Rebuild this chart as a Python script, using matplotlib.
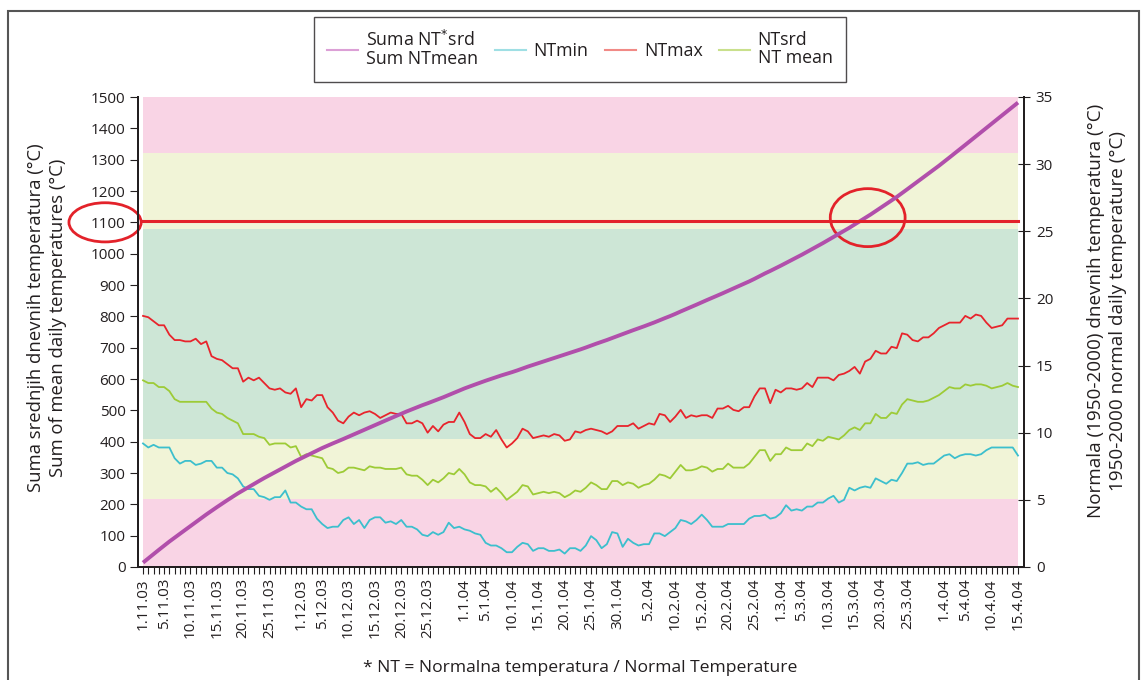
import datetime as dt
import numpy as np
import matplotlib.pyplot as plt
from matplotlib.lines import Line2D
from matplotlib.patches import Ellipse, Rectangle

plt.rcParams['font.family'] = ['Open Sans', 'DejaVu Sans']

# days 1.11.2003 - 15.4.2004
start = dt.date(2003, 11, 1)
n_days = 167
dates = [start + dt.timedelta(days=i) for i in range(n_days)]
day_names = [f"{d.day}.{d.month}.{d:%y}" for d in dates]

tick_labels = ['1.11.03', '5.11.03', '10.11.03', '15.11.03', '20.11.03', '25.11.03',
               '1.12.03', '5.12.03', '10.12.03', '15.12.03', '20.12.03', '25.12.03',
               '1.1.04', '5.1.04', '10.1.04', '15.1.04', '20.1.04', '25.1.04', '30.1.04',
               '5.2.04', '10.2.04', '15.2.04', '20.2.04', '25.2.04',
               '1.3.04', '5.3.04', '10.3.04', '15.3.04', '20.3.04', '25.3.04',
               '1.4.04', '5.4.04', '10.4.04', '15.4.04']

nt_max = [18.7, 18.6, 18.3, 18.0, 18.0, 17.3, 16.9, 16.9, 16.8, 16.8,
          17.0, 16.6, 16.8, 15.7, 15.5, 15.4, 15.1, 14.8, 14.8, 13.8,
          14.1, 13.9, 14.1, 13.7, 13.3, 13.2, 13.3, 13.0, 12.9, 13.3,
          11.9, 12.5, 12.4, 12.8, 12.8, 11.9, 11.5, 10.9, 10.7, 11.2,
          11.5, 11.3, 11.5, 11.6, 11.4, 11.1, 11.3, 11.5, 11.4, 11.4,
          10.7, 10.7, 10.9, 10.7, 10.0, 10.5, 10.1, 10.6, 10.8, 10.8,
          11.5, 10.8, 9.9, 9.6, 9.6, 9.9, 9.7, 10.2, 9.5, 8.9,
          9.2, 9.6, 10.3, 10.1, 9.6, 9.7, 9.8, 9.7, 9.9,
          9.8, 9.4, 9.5, 10.1, 10.0, 10.2, 10.3, 10.2, 10.1, 9.9,
          10.1, 10.5, 10.5, 10.5, 10.7, 10.3, 10.5, 10.7, 10.6, 11.4,
          11.3, 10.8, 11.2, 11.7, 11.1, 11.3, 11.2, 11.3, 11.3, 11.1,
          11.8, 11.8, 12.0, 11.7, 11.6, 11.9, 11.9, 12.7, 13.3, 13.3,
          12.2, 13.2, 13.0, 13.3, 13.3, 13.2, 13.3, 13.7, 13.4, 14.1,
          14.1, 14.1, 13.9, 14.3, 14.4, 14.6, 14.9, 14.4, 15.3, 15.5,
          16.1, 15.9, 15.9, 16.4, 16.3, 17.4, 17.3, 16.9, 16.8, 17.1,
          17.1, 17.4, 17.8, 18.0, 18.2, 18.2, 18.2, 18.7, 18.5, 18.8,
          18.7, 18.2, 17.8, 17.9, 18.0, 18.5, 18.5, 18.5]

nt_mean = [13.9, 13.7, 13.7, 13.4, 13.4, 13.1, 12.5, 12.3, 12.3, 12.3,
           12.3, 12.3, 12.3, 11.8, 11.5, 11.4, 11.1, 10.9, 10.7, 9.9,
           9.9, 9.9, 9.7, 9.6, 9.1, 9.2, 9.2, 9.2, 8.9, 9.0,
           8.2, 8.4, 8.3, 8.2, 8.1, 7.4, 7.3, 7.0, 7.1, 7.4,
           7.4, 7.3, 7.2, 7.5, 7.4, 7.4, 7.3, 7.3, 7.3, 7.4,
           6.9, 6.8, 6.8, 6.5, 6.1, 6.5, 6.3, 6.6, 7.0, 6.9,
           7.3, 6.9, 6.3, 6.1, 6.1, 6.0, 5.6, 5.9, 5.5, 5.0,
           5.3, 5.6, 6.1, 6.0, 5.4, 5.5, 5.6, 5.5, 5.6,
           5.5, 5.2, 5.4, 5.7, 5.6, 5.9, 6.3, 6.1, 5.8, 5.8,
           6.4, 6.4, 6.1, 6.3, 6.2, 5.9, 6.1, 6.2, 6.5, 6.9,
           6.8, 6.6, 7.1, 7.6, 7.2, 7.2, 7.3, 7.5, 7.4, 7.1,
           7.3, 7.3, 7.7, 7.4, 7.4, 7.4, 7.7, 8.2, 8.7, 8.7,
           7.9, 8.4, 8.4, 8.9, 8.7, 8.7, 8.7, 9.2, 9.0, 9.5,
           9.4, 9.7, 9.6, 9.5, 9.8, 10.2, 10.4, 10.2, 10.7, 10.7,
           11.4, 11.1, 11.1, 11.5, 11.4, 12.1, 12.5, 12.4, 12.3, 12.3,
           12.4, 12.6, 12.8, 13.1, 13.4, 13.3, 13.3, 13.6, 13.5, 13.6,
           13.6, 13.5, 13.3, 13.4, 13.5, 13.7, 13.5, 13.4]

nt_min = [9.2, 8.9, 9.1, 8.9, 8.9, 8.9, 8.1, 7.7, 7.9, 7.9,
          7.6, 7.7, 7.9, 7.9, 7.4, 7.4, 7.0, 6.9, 6.6, 6.0,
          5.8, 5.8, 5.3, 5.2, 5.0, 5.2, 5.2, 5.7, 4.8, 4.8,
          4.5, 4.3, 4.3, 3.6, 3.2, 2.9, 3.0, 3.0, 3.5, 3.7,
          3.2, 3.5, 2.9, 3.5, 3.7, 3.7, 3.3, 3.4, 3.2, 3.5,
          3.0, 3.0, 2.8, 2.4, 2.3, 2.6, 2.4, 2.6, 3.3, 2.9,
          3.0, 2.8, 2.7, 2.5, 2.4, 1.8, 1.6, 1.6, 1.4, 1.1,
          1.1, 1.5, 1.8, 1.7, 1.2, 1.4, 1.4, 1.2, 1.2,
          1.3, 1.0, 1.4, 1.4, 1.2, 1.6, 2.3, 2.0, 1.4, 1.7,
          2.6, 2.5, 1.5, 2.1, 1.8, 1.6, 1.7, 1.7, 2.5, 2.5,
          2.3, 2.6, 2.9, 3.5, 3.4, 3.2, 3.5, 3.9, 3.5, 3.0,
          3.0, 3.0, 3.2, 3.2, 3.2, 3.2, 3.6, 3.8, 3.8, 3.9,
          3.6, 3.7, 4.0, 4.6, 4.2, 4.3, 4.2, 4.5, 4.5, 4.8,
          4.8, 5.1, 5.3, 4.8, 5.0, 5.9, 5.7, 5.9, 6.0, 5.9,
          6.6, 6.4, 6.2, 6.5, 6.4, 7.0, 7.7, 7.7, 7.8, 7.6,
          7.7, 7.7, 8.0, 8.3, 8.4, 8.1, 8.3, 8.4, 8.4, 8.3,
          8.4, 8.7, 8.9, 8.9, 8.9, 8.9, 8.9, 8.3]

threshold = 1100
band_edges = [0, 5.1, 9.55, 25.2, 30.85, 35]
band_colors = ['#f9d4e5', '#f1f4d7', '#cde6d6', '#f1f4d7', '#f9d4e5']

sum_mean = np.cumsum(nt_mean)
x = np.arange(n_days)

fig = plt.figure(figsize=(11.41, 6.8), dpi=100)
W, H = 1141, 680
ax = fig.add_axes([138 / W, 1 - 567 / H, 886 / W, 470 / H])
ax2 = ax.twinx()
ax.set_zorder(ax2.get_zorder() + 1)
ax.patch.set_visible(False)

for lo, hi, c in zip(band_edges[:-1], band_edges[1:], band_colors):
    ax2.fill_between([x[0], x[-1]], lo, hi, color=c, lw=0)
ax2.plot(x, nt_min, color='#3cbfcd', lw=1.3)
ax2.plot(x, nt_max, color='#e8242c', lw=1.3)
ax2.plot(x, nt_mean, color='#9dcb37', lw=1.3)

ax.plot(x, sum_mean, color='#b14fab', lw=2.8, solid_capstyle='butt')
ax.plot([x[0], x[-1]], [threshold + 5, threshold + 5], color='#e3222a', lw=2.2)

# circles marking the 1100 crossing
cross_day = np.interp(threshold, sum_mean, x)
ax.add_patch(Ellipse((-7.2, threshold), 13.7, 125, fill=False,
                     ec='#e3222a', lw=2, clip_on=False))
ax.add_patch(Ellipse((cross_day + 1.8, threshold + 15), 14.2, 185, fill=False,
                     ec='#e3222a', lw=2, clip_on=False))

ax.set_xlim(-0.95, n_days - 1 + 1.14)
ax.set_ylim(0, 1500)
ax2.set_ylim(0, 35)

ax.set_yticks(np.arange(0, 1501, 100))
ax2.set_yticks(np.arange(0, 36, 5))
tick_pos = [day_names.index(t) for t in tick_labels]
ax.set_xticks(tick_pos)
ax.set_xticklabels(tick_labels, rotation=90)
ax.set_xticks(x, minor=True)

txt = '#231f20'
ax.tick_params(axis='x', which='both', length=5, width=0.8, direction='out',
               labelsize=11, colors=txt, pad=3)
ax.tick_params(axis='y', length=6, width=0.8, direction='out',
               labelsize=11, colors=txt, pad=3)
ax2.tick_params(axis='y', length=9, width=0.8, direction='inout',
                labelsize=11, colors=txt, pad=4)

for a in (ax, ax2):
    a.spines['top'].set_visible(False)
    for s in ('left', 'right', 'bottom'):
        a.spines[s].set_color('#231f20')
        a.spines[s].set_linewidth(1.4)

fig.text(47 / W, 1 - 318 / H,
         'Suma srednjih dnevnih temperatura (°C)\nSum of mean daily temperatures (°C)',
         rotation=90, ha='center', va='center', multialignment='center',
         fontsize=13.3, linespacing=1.3, color=txt)
fig.text(1107 / W, 1 - 311 / H,
         'Normala (1950-2000) dnevnih temperatura (°C)\n1950-2000 normal daily temperature (°C)',
         rotation=90, ha='center', va='center', multialignment='center',
         fontsize=13.6, linespacing=1.3, color=txt)
fig.text(580 / W, 1 - 668 / H, '* NT = Normalna temperatura / Normal Temperature',
         ha='center', va='center', fontsize=12.6, color=txt)

handles = [Line2D([], [], color='#dca0d6', lw=1.5),
           Line2D([], [], color='#9fdfe4', lw=1.5),
           Line2D([], [], color='#f18a86', lw=1.5),
           Line2D([], [], color='#c9e08c', lw=1.5)]
labels = ['Suma NT$^{*}$srd\nSum NTmean', 'NTmin', 'NTmax', 'NTsrd\nNT mean']
leg = fig.legend(handles, labels, loc='upper center', bbox_to_anchor=(580 / W, 1 - 17 / H),
                 ncol=4, frameon=True, fancybox=False, fontsize=12.8,
                 handlelength=1.75, handletextpad=0.45, columnspacing=0.9,
                 borderpad=0.75, labelspacing=0.2, borderaxespad=0)
leg.get_frame().set_edgecolor('#231f20')
leg.get_frame().set_linewidth(1.0)
for t in leg.get_texts():
    t.set_color(txt)
    t.set_linespacing(1.0)

fig.add_artist(Rectangle((8 / W, -0.01), (1139 - 8) / W, 1.01 - 11 / H,
                         transform=fig.transFigure, fill=False,
                         ec='#555555', lw=1.5))

fig.savefig('out.png', dpi=100)
